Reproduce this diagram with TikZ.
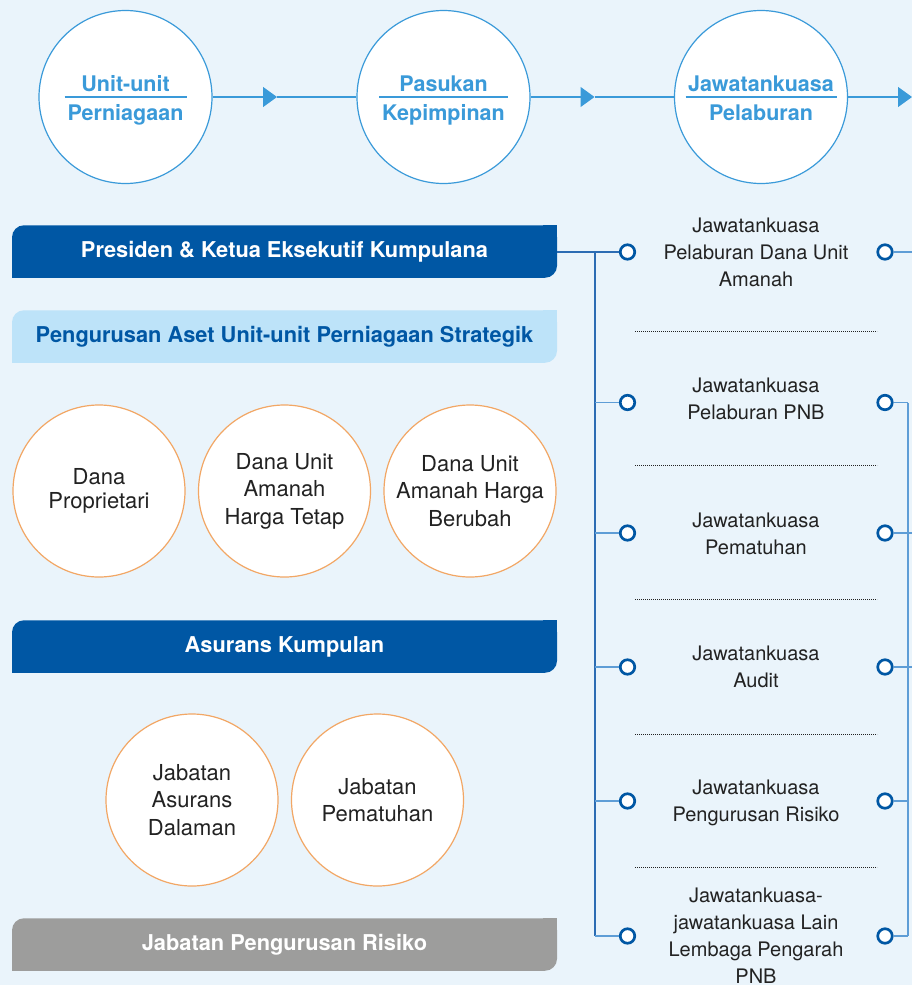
\documentclass[tikz,border=0pt]{standalone}
\usepackage{fontspec}
\setmainfont{TeX Gyre Heros}
\usetikzlibrary{arrows.meta}
\definecolor{bg}{HTML}{EAF4FB}
\definecolor{topblue}{HTML}{3A9AD9}
\definecolor{dkblue}{HTML}{0057A4}
\definecolor{ltbanner}{HTML}{BDE3F9}
\definecolor{grayb}{HTML}{9D9D9C}
\definecolor{orangec}{HTML}{F2A765}
\definecolor{busc}{HTML}{2C6CB3}
\definecolor{branchc}{HTML}{5E9DD6}
\definecolor{txt}{HTML}{222222}
\tikzset{
  topcirc/.style={circle, draw=topblue, fill=white, line width=1.2pt, minimum size=173pt, inner sep=0pt},
  toptext/.style={text=topblue, font=\bfseries\fontsize{21.5}{26}\selectfont, inner sep=0pt, anchor=base},
  topline/.style={draw=topblue, line width=1.2pt},
  flow/.style={draw=topblue, line width=1.2pt},
  flowtip/.style={flow, -{Triangle[length=14pt,width=20pt]}, fill=topblue},
  banner/.style={minimum width=545pt, minimum height=52.5pt, rounded corners=12pt, inner sep=0pt,
    font=\bfseries\fontsize{21.8}{25}\selectfont},
  ocirc/.style={circle, draw=orangec, fill=white, line width=1.2pt, minimum size=172pt, inner sep=0pt,
    align=center, text=txt},
  ofont/.style={font=\fontsize{22}{27.5}\selectfont},
  comm/.style={align=center, text=txt, font=\fontsize{20}{27}\selectfont, inner sep=0pt},
  ring/.style={circle, draw=dkblue, fill=white, line width=2.7pt, minimum size=14.5pt, inner sep=0pt},
  bus/.style={draw=busc, line width=1.5pt},
  branch/.style={draw=branchc, line width=1.5pt},
  sep/.style={draw=txt, line width=0.9pt, dash pattern=on 0.9pt off 1.1pt}
}
\begin{document}
\begin{tikzpicture}[x=1pt,y=-1pt]
\fill[bg] (0,0) rectangle (912,985);
\useasboundingbox (0,0) rectangle (912,985);

% top circles
\node[topcirc] (c1) at (125.5,97) {};
\node[topcirc] (c2) at (443.5,97) {};
\node[topcirc] (c3) at (761,97) {};
\node[toptext] (c1a) at (125.5,91) {Unit-unit};
\node[toptext] (c1b) at (125.5,120) {Perniagaan};
\node[toptext] (c2a) at (443.5,91) {Pasukan};
\node[toptext] (c2b) at (443.5,120) {Kepimpinan};
\node[toptext] (c3a) at (761,91) {Jawatankuasa};
\node[toptext] (c3b) at (761,120) {Pelaburan};
\draw[topline] ([xshift=-61pt]c1.center) -- ([xshift=61pt]c1.center);
\draw[topline] ([xshift=-64.5pt]c2.center) -- ([xshift=64.5pt]c2.center);
\draw[topline] ([xshift=-75.5pt]c3.center) -- ([xshift=75.5pt]c3.center);

\coordinate (t1) at (277,97);
\coordinate (t2) at (594.5,97);
\coordinate (t3) at (912,97);
\draw[flowtip] (c1.east) -- (t1);
\draw[flow] (t1) -- (c2.west);
\draw[flowtip] (c2.east) -- (t2);
\draw[flow] (t2) -- (c3.west);
\draw[flowtip] (c3.east) -- (t3);

% banners
\node[banner, fill=dkblue, text=white] (b1) at (284.5,251.5) {Presiden \& Ketua Eksekutif Kumpulana};
\fill[dkblue] (b1.north east) rectangle ++(-14,14);
\fill[dkblue] (b1.south west) rectangle ++(14,-14);
\node[banner, fill=ltbanner, text=dkblue] (b2) at (284.5,336.5) {Pengurusan Aset Unit-unit Perniagaan Strategik};
\fill[ltbanner] (b2.north east) rectangle ++(-14,14);
\fill[ltbanner] (b2.south west) rectangle ++(14,-14);
\node[banner, fill=dkblue, text=white] (b3) at (284.5,646.5) {Asurans Kumpulan};
\fill[dkblue] (b3.north east) rectangle ++(-14,14);
\fill[dkblue] (b3.south west) rectangle ++(14,-14);
\node[banner, fill=grayb, text=white] (b4) at (284.5,944.5) {Jabatan Pengurusan Risiko};
\fill[grayb] (b4.north east) rectangle ++(-14,14);
\fill[grayb] (b4.south west) rectangle ++(14,-14);

% orange circles
\node[ocirc, font=\fontsize{22}{23.5}\selectfont] (o1) at (99,491) {Dana\\Proprietari};
\node[ocirc, ofont] (o2) at (284.5,491) {Dana Unit\\Amanah\\Harga Tetap};
\node[ocirc, ofont] (o3) at (470,491) {Dana Unit\\Amanah Harga\\Berubah};
\node[ocirc, ofont] (o4) at (192,800) {Jabatan\\Asurans\\Dalaman};
\node[ocirc, ofont] (o5) at (377.5,800) {Jabatan\\Pematuhan};

% committees
\node[comm] (k1) at (756,252) {Jawatankuasa\\Pelaburan Dana Unit\\Amanah};
\node[comm] (k2) at (756,398.5) {Jawatankuasa\\Pelaburan PNB};
\node[comm] (k3) at (756,533.5) {Jawatankuasa\\Pematuhan};
\node[comm] (k4) at (756,666.5) {Jawatankuasa\\Audit};
\node[comm] (k5) at (756,802.5) {Jawatankuasa\\Pengurusan Risiko};
\node[comm] (k6) at (756,936) {Jawatankuasa-\\jawatankuasa Lain\\Lembaga Pengarah\\PNB};

\foreach \y in {331.7,465,599,734,867.7} \draw[sep] (635,\y) -- (877,\y);

% connector frame coordinates
\coordinate (busx) at (595,0);
\coordinate (rbx) at (908,0);
\coordinate (edge) at (912,0);

% rings
\node[ring] (L1) at (627.5,252) {};
\node[ring] (L2) at (627.5,402.5) {};
\node[ring] (L3) at (627.5,533) {};
\node[ring] (L4) at (627.5,667) {};
\node[ring] (L5) at (627.5,801) {};
\node[ring] (L6) at (627.5,936) {};
\node[ring] (R1) at (885,252) {};
\node[ring] (R2) at (885,402.5) {};
\node[ring] (R3) at (885,533) {};
\node[ring] (R4) at (885,667) {};
\node[ring] (R5) at (885,801) {};
\node[ring] (R6) at (885,936) {};

\draw[bus] (b1.east |- L1.west) -- (L1.west);
\draw[bus] (busx |- L1) -- (busx |- L6);
\foreach \n in {L2,L3,L4,L5,L6} \draw[branch] (busx |- \n) -- (\n.west);
\foreach \n in {R1,R3,R4} \draw[branch] (\n.east) -- (edge |- \n);
\foreach \n in {R2,R5,R6} \draw[branch] (\n.east) -- (rbx |- \n);
\draw[branch] (rbx |- R2) -- (rbx |- R6);
\end{tikzpicture}
\end{document}
